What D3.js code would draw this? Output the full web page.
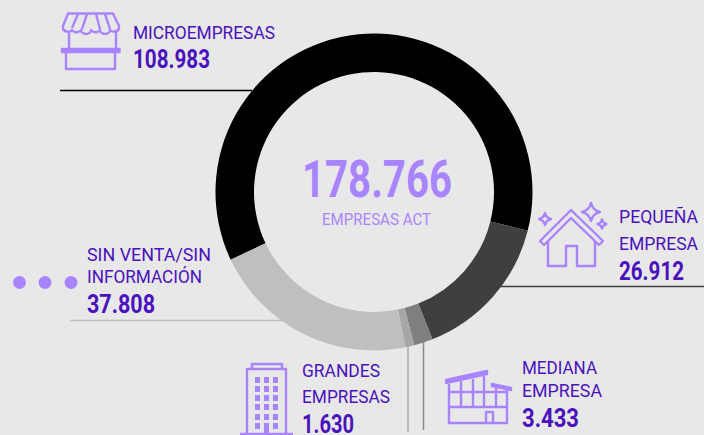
<!DOCTYPE html>
<html><head><meta charset="utf-8">
<script src="https://cdn.jsdelivr.net/npm/d3@7"></script>
<style>html,body{margin:0;padding:0;background:#e8e8e8;overflow:hidden}svg{display:block}text{font-family:Roboto,sans-serif}</style>
</head><body><svg width="704" height="435"></svg>
<script>
const categories = ["MICROEMPRESAS","PEQUEÑA EMPRESA","MEDIANA EMPRESA","GRANDES EMPRESAS","SIN VENTA/SIN INFORMACIÓN"];
const values = [108983,26912,3433,1630,37808];
const sliceColors = ["#000000","#3f3f3f","#7f7f7f","#a6a6a6","#bfbfbf"];
const totalValue = 178766;
const totalLabel = "EMPRESAS ACT";

const purple="#4a12bd", light="#a984ff";
const svg=d3.select("svg");
const fmt=d3.formatLocale({decimal:",",thousands:".",grouping:[3],currency:["",""]}).format(",d");

// donut
const cx=374,cy=192,R=158.5,r=120;
const start=244.7*Math.PI/180;
const pie=d3.pie().sort(null).startAngle(start).endAngle(start+2*Math.PI);
const arc=d3.arc().innerRadius(r).outerRadius(R);
svg.append("g").attr("transform",`translate(${cx},${cy})`)
  .selectAll("path").data(pie(values)).join("path")
  .attr("d",arc).attr("fill",(d,i)=>sliceColors[i]);

// leader lines
[[60,90.5,252,90.5,"#000",1.3],[498,286.5,704,286.5,"#3f3f3f",1.3],[423.5,342,423.5,430,"#8a8a8a",1.5],
 [408,345,408,432,"#aaaaaa",1.5],[70,320.5,282,320.5,"#bdbdbd",1.3]].forEach(l=>
  svg.append("line").attr("x1",l[0]).attr("y1",l[1]).attr("x2",l[2]).attr("y2",l[3]).attr("stroke",l[4]).attr("stroke-width",l[5]));

function txt(s,x,y,size,w,weight,fill){
  svg.append("text").attr("x",x).attr("y",y).attr("font-size",size).attr("font-weight",weight)
    .attr("fill",fill).attr("textLength",w).attr("lengthAdjust","spacingAndGlyphs").text(s);
}
const label=(s,x,y,w)=>txt(s,x,y,18,w,400,purple);
const num=(i,x,y,w)=>txt(fmt(values[i]),x,y,25,w,700,purple);

label("MICROEMPRESAS",133,39,142); num(0,133,68,77);
label("PEQUEÑA",619,223,79); label("EMPRESA",619,250,79); num(1,619,280,65);
label("MEDIANA",522,374,75); label("EMPRESA",522,397,80); num(2,522,427,57);
label("GRANDES",302,377,78); label("EMPRESAS",302,403,88); num(3,302,433,52);
label("SIN VENTA/SIN",87,261,124); label("INFORMACIÓN",87,283,115); num(4,87,313,68);

txt(fmt(totalValue),302,197,51,150,700,light);
txt(totalLabel,322,225,16,109,400,light);

// icons
const ic=svg.append("g").attr("fill","none").attr("stroke",light).attr("stroke-width",2.4).attr("stroke-linejoin","round");
// store
ic.append("path").attr("d","M68,13.5H113L119,26V28A5,4 0 0 1 110,30A5,4 0 0 1 100,30A5,4 0 0 1 91,30A5,4 0 0 1 81,30A5,4 0 0 1 72,30A5,4 0 0 1 63,28V26Z");
ic.append("path").attr("d","M78,14L72,28M87,14L82,29M96,14L100,29M105,14L110,29");
ic.append("path").attr("d","M69,32V49M116,32V49M66,53V69H115V53");
ic.append("rect").attr("x",62).attr("y",49).attr("width",57.5).attr("height",3).attr("fill",light);
// house
ic.append("path").attr("d","M540,241L571,210L603,241L599,245L571,218L544,245Z");
ic.append("path").attr("d","M548,241V266H566V246H577V266H595V241");
const star=(x,y,a)=>`M${x},${y-a}Q${x+a*.2},${y-a*.2} ${x+a},${y}Q${x+a*.2},${y+a*.2} ${x},${y+a}Q${x-a*.2},${y+a*.2} ${x-a},${y}Q${x-a*.2},${y-a*.2} ${x},${y-a}Z`;
ic.append("path").attr("d",star(591,212,9));
ic.append("path").attr("d",star(545,219,6));
ic.append("path").attr("d",star(602,224,4.5));
// tower
ic.append("path").attr("d","M252,369V364H282V369M247,434V369H286V434M240,434H293");
const winX=[255,264,273], winY=[377,386,395,404,414,423];
winX.forEach(x=>winY.forEach(y=>svg.append("rect").attr("x",x).attr("y",y).attr("width",5).attr("height",6).attr("fill",light)));
svg.append("rect").attr("x",264).attr("y",423).attr("width",5).attr("height",11).attr("fill",light);
// factory
ic.append("path").attr("d","M446,380L487,371V374L446,383Z").attr("fill",light);
ic.append("path").attr("d","M492,384L511,388V390L492,386Z").attr("fill",light);
ic.append("path").attr("d","M449,384V423H507V390M449,407H507M449,392H507M461,381V407M473,379V407M484,376V407M496,387V407");
ic.append("path").attr("d","M486,423V412H493V423");

// dots
[19.5,45,71].forEach(x=>svg.append("circle").attr("cx",x).attr("cy",282.5).attr("r",6.5).attr("fill",light));
</script></body></html>
